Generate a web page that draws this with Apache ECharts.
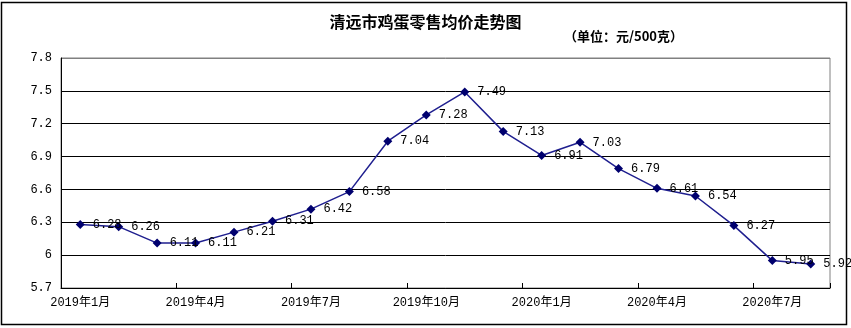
<!DOCTYPE html>
<html>
<head>
<meta charset="utf-8">
<script src="https://cdn.jsdelivr.net/npm/echarts@6/dist/echarts.min.js"></script>
<style>
  html, body { margin: 0; padding: 0; background: #fff; }
  #chart { width: 851px; height: 328px; }
</style>
</head>
<body>
<div id="chart"></div>
<script>
// Monthly retail egg price, Qingyuan (yuan per 500 g)
const months = [
  '2019年1月', '2019年2月', '2019年3月', '2019年4月', '2019年5月', '2019年6月',
  '2019年7月', '2019年8月', '2019年9月', '2019年10月', '2019年11月', '2019年12月',
  '2020年1月', '2020年2月', '2020年3月', '2020年4月', '2020年5月', '2020年6月',
  '2020年7月', '2020年8月'
];
const prices = [
  6.28, 6.26, 6.11, 6.11, 6.21, 6.31, 6.42, 6.58, 7.04, 7.28,
  7.49, 7.13, 6.91, 7.03, 6.79, 6.61, 6.54, 6.27, 5.95, 5.92
];
const yMin = 5.7, yMax = 7.8, yStep = 0.3;
const titleText = '清远市鸡蛋零售均价走势图';
const unitText = '（单位：元/500克）';

const monoFont = "'Liberation Mono', 'Noto Sans CJK SC', monospace";
const cjkFont = "'Noto Sans CJK SC', sans-serif";

const chart = echarts.init(document.getElementById('chart'), null, { renderer: 'canvas' });

chart.setOption({
  backgroundColor: '#ffffff',
  animation: false,
  title: [
    {
      text: titleText,
      left: 'center',
      top: 9,
      textStyle: { fontFamily: cjkFont, fontSize: 16, fontWeight: 'bold', color: '#000' }
    },
    {
      text: unitText,
      left: 559,
      top: 25,
      textStyle: { fontFamily: cjkFont, fontSize: 13, fontWeight: 'bold', color: '#000' }
    }
  ],
  graphic: [
    {
      type: 'rect',
      shape: { x: 1.5, y: 2.5, width: 845, height: 322 },
      style: { fill: 'none', stroke: '#000', lineWidth: 1.5 },
      silent: true
    }
  ],
  grid: {
    left: 61, right: 21, top: 58, bottom: 40,
    show: true, borderColor: '#808080', borderWidth: 1, backgroundColor: 'transparent'
  },
  xAxis: {
    type: 'category',
    data: months,
    boundaryGap: true,
    axisLine: { lineStyle: { color: '#000', width: 1 } },
    axisTick: { show: true, inside: true, length: 5, interval: 2, lineStyle: { color: '#000' } },
    axisLabel: {
      interval: 2, color: '#000', fontFamily: monoFont, fontSize: 12, margin: 9
    },
    splitLine: { show: false }
  },
  yAxis: {
    type: 'value',
    min: yMin, max: yMax, interval: yStep,
    axisLine: { show: true, lineStyle: { color: '#000', width: 1 } },
    axisTick: { show: false },
    axisLabel: {
      color: '#000', fontFamily: monoFont, fontSize: 12, margin: 9,
      formatter: v => String(Math.round(v * 10) / 10)
    },
    splitLine: {
      show: true,
      lineStyle: {
        color: ['#000', '#000', '#000', '#000', '#000', '#000', '#000', '#808080'],
        width: 1
      }
    }
  },
  series: [
    {
      type: 'line',
      data: prices,
      symbol: 'diamond',
      symbolSize: 9,
      lineStyle: { color: '#1f1f8f', width: 1.5 },
      itemStyle: { color: '#00006e' },
      label: {
        show: true,
        position: 'right',
        distance: 8,
        color: '#000',
        fontFamily: monoFont,
        fontSize: 12,
        formatter: p => p.value.toFixed(2)
      }
    }
  ]
});
</script>
</body>
</html>
